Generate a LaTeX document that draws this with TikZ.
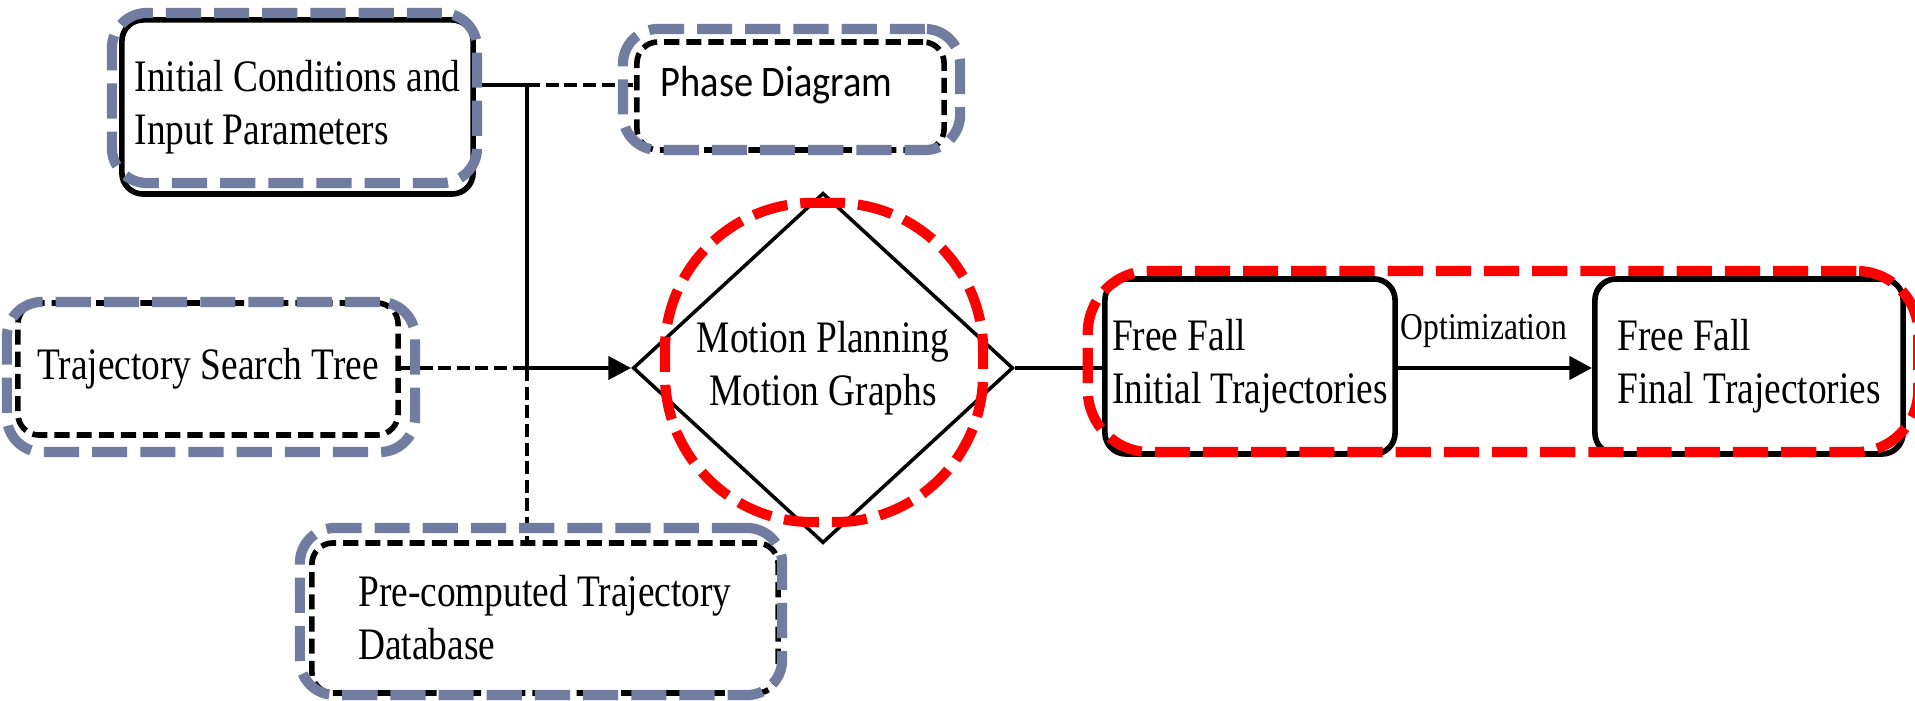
\documentclass[tikz,border=0pt]{standalone}
\usepackage{fontspec}
\setmainfont{Liberation Serif}[FakeStretch=0.83]
\newfontfamily\phasefont{Carlito}[FakeStretch=0.88]
\usetikzlibrary{shapes.geometric,arrows.meta}

\definecolor{hlgray}{RGB}{114,123,160}
\definecolor{hlred}{RGB}{255,0,0}

\tikzset{
  basebox/.style={draw=black, line width=1.6pt, rounded corners=6pt, inner sep=0pt,
    font=\fontsize{12.8pt}{15.1pt}\selectfont},
  box/.style={basebox, align=left},
  dbox/.style={box, dash pattern=on 4.3pt off 2pt},
  grayhl/.style={draw=hlgray, line width=2.9pt, rounded corners=10pt,
    dash pattern=on 10pt off 3.7pt, inner sep=0pt},
  redhl/.style={draw=hlred, line width=2.9pt, dash pattern=on 10pt off 3.7pt, inner sep=0pt},
  wire/.style={line width=1.4pt},
  dwire/.style={wire, dash pattern=on 3.7pt off 1.6pt},
  flow/.style={wire, -{Triangle[length=6.5pt,width=6.5pt]}},
}

\begin{document}
\begin{tikzpicture}[x=0.01cm, y=-0.01cm]
  \useasboundingbox (0,0) rectangle (1915,701);

  % blocks of the flow
  \node[box, minimum width=3.51cm, minimum height=1.74cm] (init) at (297.5,107)
    {Initial Conditions and\\Input Parameters};
  \node[basebox, dash pattern=on 4.3pt off 2pt, font=\phasefont\fontsize{12.4pt}{14pt}\selectfont,
    minimum width=3.07cm, minimum height=1.08cm, text height=8.5pt, text depth=8pt]
    (phase) at (790.5,96) {Phase Diagram\hspace*{0.28cm}};
  \node[dbox, minimum width=3.80cm, minimum height=1.32cm] (traj) at (208,369)
    {Trajectory Search Tree};
  \node[dbox, minimum width=4.66cm, minimum height=1.50cm] (pre) at (545,618)
    {Pre-computed Trajectory\\Database};
  \node[draw, diamond, line width=1pt, inner sep=0pt, minimum width=3.80cm, minimum height=3.50cm,
    align=center, font=\fontsize{12.8pt}{15.1pt}\selectfont] (plan) at (823,368)
    {Motion Planning\\Motion Graphs};
  \node[box, minimum width=2.90cm, minimum height=1.75cm] (ffi) at (1250,366.5)
    {Free Fall\\Initial Trajectories};
  \node[box, minimum width=3.08cm, minimum height=1.75cm] (ffl) at (1749,366.5)
    {Free Fall\\Final Trajectories};

  % connectors
  \coordinate (j1) at (527,85);
  \coordinate (j2) at (527,368);
  \draw[wire] (init.east |- j1) -- (j1) -- (j2);
  \draw[dwire] (j1) -- (phase.west |- j1);
  \draw[dwire] (j2) -- (j2 |- pre.north);
  \draw[dwire] (traj.east |- j2) -- (j2);
  \draw[flow] (j2) -- (plan.west);
  \draw[wire] (plan.east) -- (ffi.west |- plan.east);
  \draw[flow] (ffi.east |- plan.east) -- (ffl.west |- plan.east);
  \node[anchor=base, inner sep=0pt, font=\fontsize{10.8pt}{13pt}\selectfont] (opt) at (1484,340)
    {Optimization};

  % highlight outlines
  \node[grayhl, minimum width=3.65cm, minimum height=1.70cm] (initHL) at (294.5,98) {};
  \node[grayhl, minimum width=3.37cm, minimum height=1.21cm] (phaseHL) at (791.5,89.5) {};
  \node[grayhl, minimum width=4.08cm, minimum height=1.50cm] (trajHL) at (211,377) {};
  \node[grayhl, minimum width=4.82cm, minimum height=1.67cm] (preHL) at (541,611.5) {};
  \node[redhl, rounded corners=42pt, minimum width=3.18cm, minimum height=3.19cm] (planHL) at (824,362.5) {};
  \node[redhl, rounded corners=17.6pt, minimum width=8.30cm, minimum height=1.81cm] (ffHL) at (1503,361.5) {};
\end{tikzpicture}
\end{document}
